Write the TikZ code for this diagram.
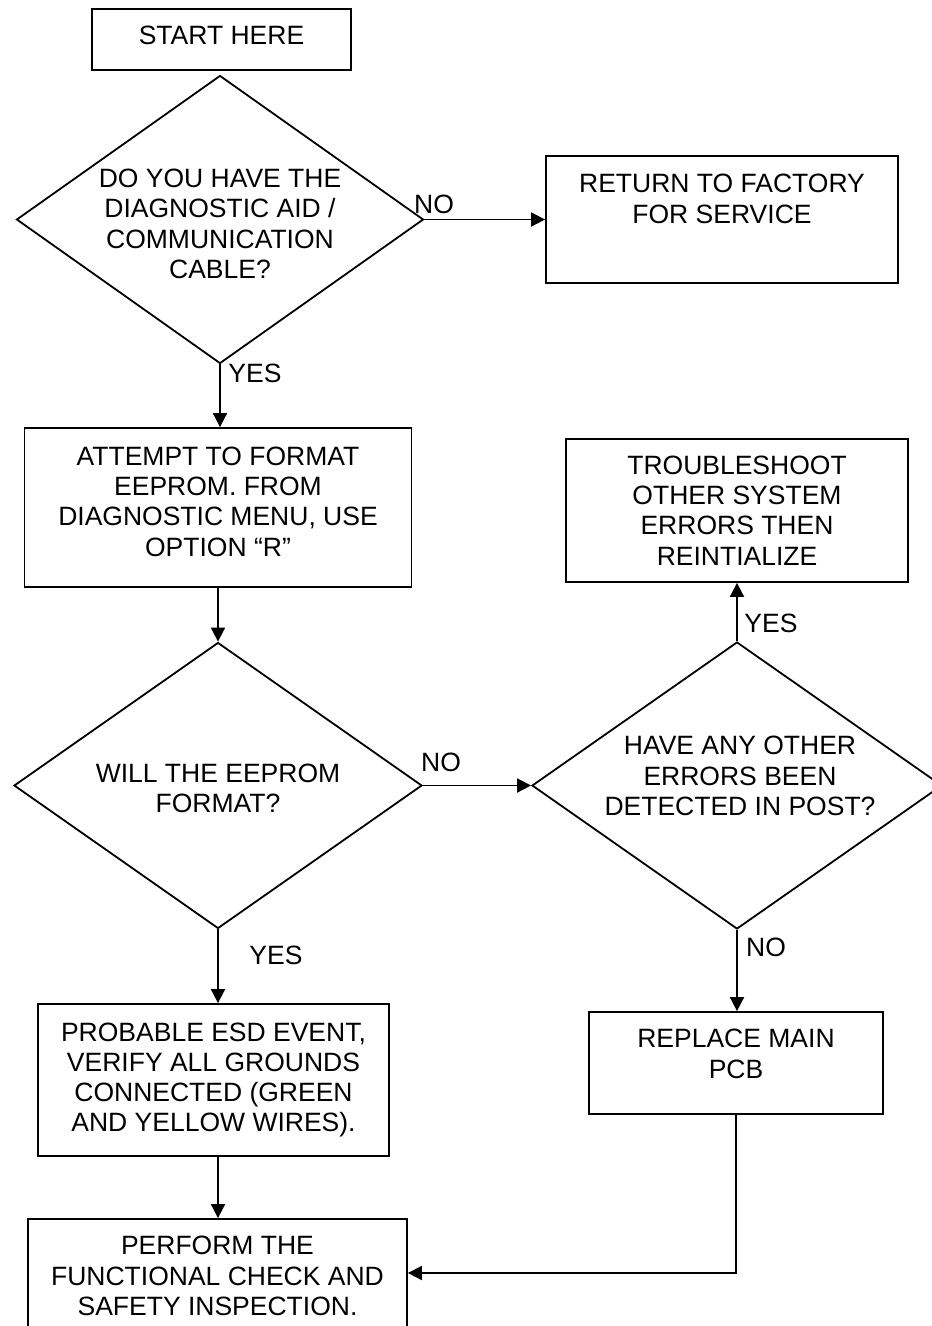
\documentclass[tikz,border=0pt]{standalone}
\usepackage{fontspec}
\setmainfont{Liberation Sans}
\usetikzlibrary{shapes.geometric,arrows.meta}
\tikzset{
    every node/.style={font=\fontsize{26.5}{30.3}\selectfont, align=center}
}
\tikzset{
    box/.style={rectangle, draw, line width=1.8pt, inner sep=0pt},
    decision/.style={diamond, draw, line width=1.8pt, inner sep=0pt},
    answer/.style={inner sep=0pt}
}
\tikzset{
    flow/.style={line width=1.8pt, -{Triangle[length=14pt,width=14pt]}}
}

\begin{document}
\begin{tikzpicture}[x=1pt,y=-1pt]
	\useasboundingbox (0,0) rectangle (932,1326);

	\node[box, minimum width=259pt, minimum height=61pt,
		label={[yshift=4pt]center:START HERE}] (start) at (221.5,39.5) {};
	\node[decision, minimum width=407pt, minimum height=288pt,
		label={[yshift=-4.5pt]center:{DO YOU HAVE THE\\DIAGNOSTIC AID /\\COMMUNICATION\\CABLE?}}]
		(cable) at (220,219.5) {};
	\node[box, minimum width=352pt, minimum height=127pt,
		label={[yshift=20.5pt]center:{RETURN TO FACTORY\\FOR SERVICE}}]
		(factory) at (722,219.5) {};
	\node[box, minimum width=387pt, minimum height=159pt,
		label={[yshift=6pt]center:{ATTEMPT TO FORMAT\\EEPROM. FROM\\DIAGNOSTIC MENU, USE\\OPTION “R”}}]
		(format) at (218,507.5) {};
	\node[decision, minimum width=408pt, minimum height=286pt,
		label={[yshift=-3pt]center:{WILL THE EEPROM\\FORMAT?}}]
		(formats) at (218,785.5) {};
	\node[decision, minimum width=410pt, minimum height=287pt,
		label={[xshift=3pt, yshift=9.5pt]center:{HAVE ANY OTHER\\ERRORS BEEN\\DETECTED IN POST?}}]
		(errors) at (737,785.5) {};
	\node[box, minimum width=342pt, minimum height=143pt] (trouble) at (737,510.5)
		{TROUBLESHOOT\\OTHER SYSTEM\\ERRORS THEN\\REINTIALIZE};
	\node[box, minimum width=351pt, minimum height=152pt] (esd) at (213.5,1080)
		{PROBABLE ESD EVENT,\\VERIFY ALL GROUNDS\\CONNECTED (GREEN\\AND YELLOW WIRES).};
	\node[box, minimum width=294pt, minimum height=102pt,
		label={[yshift=9pt]center:{REPLACE MAIN\\PCB}}]
		(pcb) at (736,1063) {};
	\node[box, minimum width=379pt, minimum height=114pt] (check) at (217.5,1276)
		{PERFORM THE\\FUNCTIONAL CHECK AND\\SAFETY INSPECTION.};

	% answers
	\node[answer] (no1) at (434,204) {NO};
	\node[answer] (yes1) at (255,373.5) {YES};
	\node[answer] (no2) at (441,762.5) {NO};
	\node[answer] (yes2) at (276,955) {YES};
	\node[answer] (yes3) at (771,623.5) {YES};
	\node[answer] (no3) at (766,947) {NO};

	\draw[flow] (cable) -- (factory); \draw[flow] (cable.south) -- (cable.south |- format.north);
	\draw[flow] (format.south) -- (formats.north); \draw[flow] (formats) -- (errors);
	\draw[flow] (errors.north) -- (trouble.south);
	\draw[flow] (errors.south) -- (errors.south |- pcb.north);
	\draw[flow] (formats.south) -- (formats.south |- esd.north);
	\draw[flow] (formats.south |- esd.south) -- (formats.south |- check.north);
	\draw[flow] (pcb.south) |- ([yshift=3pt]check.east);
\end{tikzpicture}
\end{document}
